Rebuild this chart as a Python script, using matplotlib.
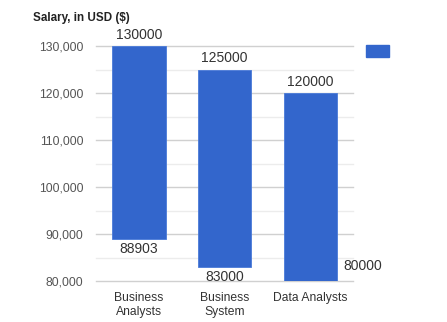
import numpy as np
import matplotlib.pyplot as plt

plt.rcParams['font.family'] = ['Liberation Sans', 'DejaVu Sans']

categories = ["Business\nAnalysts", "Business\nSystem", "Data Analysts"]
low = [88903, 83000, 80000]
high = [130000, 125000, 120000]
yticks = [80000, 90000, 100000, 110000, 120000, 130000]

BLUE = "#3366cc"

fig = plt.figure(figsize=(4.47, 3.22), dpi=100)
ax = fig.add_axes([0.215, 0.127, 0.575, 0.730])

x = np.arange(len(categories))
heights = [h - l for h, l in zip(high, low)]
ax.bar(x, heights, bottom=low, width=0.62, color=BLUE, edgecolor="#4a7ad8", linewidth=0.6, zorder=3)

ax.set_xlim(-0.5, 2.5)
ax.set_ylim(80000, 130000)

# grid: major every 10k, minor every 5k
for v in range(80000, 130001, 5000):
    c = "#d0d0d0" if v % 10000 == 0 else "#ececec"
    ax.axhline(v, color=c, linewidth=1, zorder=1, clip_on=False)

ax.set_yticks(yticks)
ax.set_yticklabels([f"{v:,}" for v in yticks], color="#555555", fontsize=8.7)
ax.set_xticks(x)
ax.set_xticklabels(categories, color="#333333", fontsize=8.7, linespacing=1.25)
ax.tick_params(length=0, pad=9)
ax.tick_params(axis="x", pad=7.5)
for s in ax.spines.values():
    s.set_visible(False)

# value labels
for i in range(len(categories)):
    ax.annotate(str(high[i]), (x[i], high[i]), xytext=(0, 3), textcoords="offset points",
                ha="center", va="bottom", fontsize=10, color="#333333")
    if i < 2:
        ax.annotate(str(low[i]), (x[i], low[i]), xytext=(0, -2), textcoords="offset points",
                    ha="center", va="top", fontsize=10, color="#333333")
    else:
        ax.annotate(str(low[i]), (x[i] + 0.31, low[i]), xytext=(5, 11), textcoords="offset points",
                    ha="left", va="center", fontsize=10, color="#333333")

fig.text(0.074, 0.962, "Salary, in USD ($)", fontsize=8.4, fontweight="bold", color="#222222",
         ha="left", va="top")

# legend square without text
fig.patches.append(plt.Rectangle((366 / 447, 1 - 57 / 322), 23 / 447, 12 / 322,
                                 transform=fig.transFigure, color=BLUE, figure=fig))

fig.savefig("out.png", dpi=100)
